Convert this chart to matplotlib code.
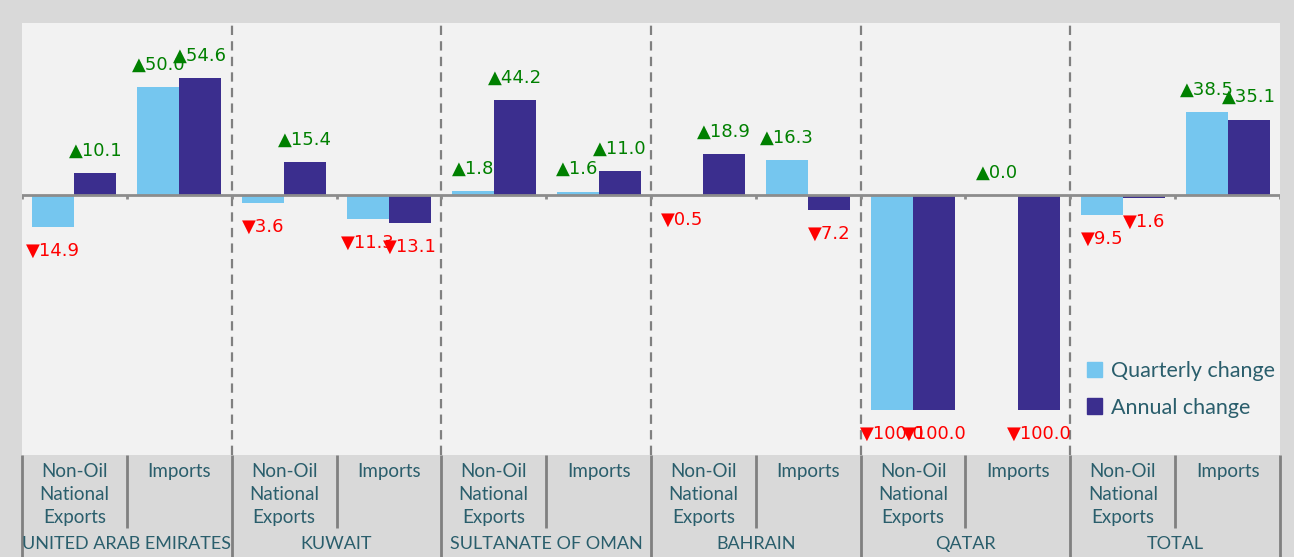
import numpy as np
import matplotlib.pyplot as plt
from matplotlib.patches import Patch

# Datos: variación trimestral y anual (%) por país y flujo comercial
countries = ["UNITED ARAB EMIRATES", "KUWAIT", "SULTANATE OF OMAN", "BAHRAIN", "QATAR", "TOTAL"]
flows = ["Non-Oil\nNational\nExports", "Imports"]
quarterly = [-14.9, 50.0, -3.6, -11.3, 1.8, 1.6, -0.5, 16.3, -100.0, 0.0, -9.5, 38.5]
annual = [10.1, 54.6, 15.4, -13.1, 44.2, 11.0, 18.9, -7.2, -100.0, -100.0, -1.6, 35.1]

c_q = "#75c6ef"
c_a = "#3b2e8e"
c_txt = "#2a5e6c"
c_sep = "#808080"

W, H = 1294, 557
fig = plt.figure(figsize=(W / 100, H / 100), dpi=100, facecolor="#d9d9d9")
ax = fig.add_axes([22 / W, 102 / H, 1258 / W, 432 / H])
ax.set_facecolor("#f2f2f2")
for s in ax.spines.values():
    s.set_visible(False)

n = len(quarterly)
x = np.arange(n)
w = 0.4
ax.bar(x - w / 2, quarterly, w, color=c_q, zorder=3)
ax.bar(x + w / 2, annual, w, color=c_a, zorder=3)
ax.set_xlim(-0.5, n - 0.5)
ax.set_ylim(-121, 80)
ax.set_xticks([])
ax.set_yticks([])

# línea de cero con marcas en los límites de cada categoría
ax.axhline(0, color="#8c8c8c", lw=2, zorder=4)
ax.vlines(np.arange(n + 1) - 0.5, -2, 0, color="#8c8c8c", lw=2, zorder=4)

# separadores de países
for b in np.arange(1.5, n - 1, 2):
    ax.axvline(b, color=c_sep, lw=1.6, linestyle=(0, (4.2, 2.8)), zorder=2)

# etiquetas de valor
def etiqueta(xp, v):
    if v >= 0:
        txt, col, dy = "\u25b2" + f"{v:.1f}", "green", 16
    else:
        txt, col, dy = "\u25bc" + f"{abs(v):.1f}", "red", -17
    ax.annotate(txt, (xp, v), xytext=(0, dy), textcoords="offset points",
                ha="center", va="center", color=col, fontsize=13, zorder=5)

for i in range(n):
    etiqueta(x[i] - w / 2, quarterly[i])
    etiqueta(x[i] + w / 2, annual[i])

# tabla de categorías bajo el gráfico
tab = fig.add_axes([22 / W, 0, 1258 / W, 102 / H])
tab.set_xlim(-0.5, n - 0.5)
tab.set_ylim(0, 1)
tab.axis("off")
tab.vlines(np.arange(0.5, n, 2), 0.285, 1, color=c_sep, lw=2, clip_on=False)
tab.vlines(np.arange(-0.5, n + 0.5, 2), 0, 1, color=c_sep, lw=2, clip_on=False)

font_cat = ["Lato", "DejaVu Sans"]
for i in range(n):
    tab.text(x[i], 0.92, flows[i % 2], ha="center", va="top", color=c_txt,
             fontsize=13.5, linespacing=1.42, family=font_cat)
for g, name in enumerate(countries):
    tab.text(2 * g + 0.5, 0.125, name, ha="center", va="center", color=c_txt,
             fontsize=13, family=font_cat)

handles = [Patch(color=c_q, label="Quarterly change"), Patch(color=c_a, label="Annual change")]
fig.legend(handles=handles, loc="upper left", bbox_to_anchor=(1068 / W, 1 - 342 / H),
           frameon=False, labelcolor=c_txt, handlelength=0.7,
           handleheight=0.7, handletextpad=0.4, labelspacing=0.75,
           prop={"family": font_cat, "size": 15.5})

fig.savefig("out.png", dpi=100, facecolor=fig.get_facecolor())
